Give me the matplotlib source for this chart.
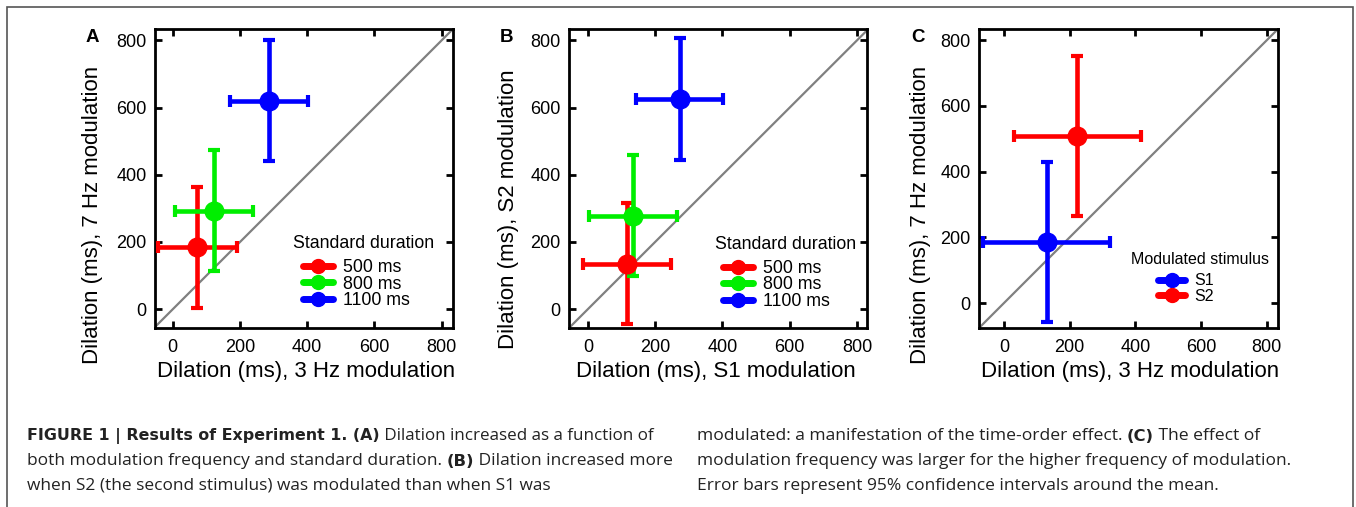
import numpy as np
import matplotlib
matplotlib.use("Agg")
import matplotlib.pyplot as plt
from matplotlib.lines import Line2D
from matplotlib.patches import Rectangle

plt.rcParams['font.family'] = ['Liberation Sans', 'DejaVu Sans']

RED = '#ff0000'
GREEN = '#00ee00'
BLUE = '#0000ff'

# panel A: 3 Hz vs 7 Hz, per standard duration
durations = ['500 ms', '800 ms', '1100 ms']
a_x = [73, 124, 285]
a_y = [184, 293, 620]
a_xerr = [117, 116, 116]
a_yerr = [180, 180, 180]

# panel B: S1 vs S2 modulation
b_x = [117, 134, 273]
b_y = [135, 278, 625]
b_xerr = [130, 131, 129]
b_yerr = [180, 180, 181]

# panel C: modulated stimulus
stimuli = ['S1', 'S2']
c_x = [130, 223]
c_y = [186, 508]
c_xerr = [193, 193]
c_yerr = [243, 244]

ticks = [0, 200, 400, 600, 800]

W, H = 1356, 507


def fx(px):
    return px / W


def fy(py):
    return 1 - py / H


def draw_panel(ax, xs, ys, xerrs, yerrs, colors, names, xlim, ylim,
               xlabel, ylabel, ylab_pos, xlab_x,
               leg_title, title_pos, leg_pos, leg_size, leg_space):
    ax.plot([-200, 1000], [-200, 1000], color='#808080', lw=1.6, zorder=1)
    for x, y, xe, ye, c in zip(xs, ys, xerrs, yerrs, colors):
        ax.errorbar(x, y, xerr=xe, yerr=ye, fmt='o', color=c, ms=13.5,
                    elinewidth=3.3, capsize=4.5, capthick=3, zorder=3)
    ax.set_xlim(*xlim)
    ax.set_ylim(*ylim)
    ax.set_xticks(ticks)
    ax.set_yticks(ticks)
    ax.tick_params(direction='in', length=5, width=2, top=True, right=True,
                   labelsize=13)
    ax.tick_params(axis='x', pad=8)
    ax.tick_params(axis='y', pad=6)
    for s in ax.spines.values():
        s.set_linewidth(2)
    ax.text(xlab_x, -0.146, xlabel, transform=ax.transAxes, ha='center',
            va='center', fontsize=16)
    ax.text(ylab_pos[0], ylab_pos[1], ylabel, transform=ax.transAxes,
            ha='center', va='center', rotation=90, fontsize=16)
    # legend title drawn separately so the entries can sit tight
    ax.text(title_pos[0], title_pos[1], leg_title, transform=ax.transAxes,
            ha='center', va='center', fontsize=leg_size)
    handles = [Line2D([], [], color=c, lw=5, marker='o', ms=10,
                      solid_capstyle='round') for c in colors]
    ax.legend(handles, names, loc='upper left', bbox_to_anchor=leg_pos,
              frameon=False, fontsize=leg_size, labelspacing=leg_space,
              handlelength=1.7, handletextpad=0.55, borderpad=0,
              borderaxespad=0)


fig = plt.figure(figsize=(W / 100, H / 100), dpi=100)

axA = fig.add_axes([fx(155), fy(328), fx(298), 299 / H])
axB = fig.add_axes([fx(569), fy(328), fx(298), 299 / H])
axC = fig.add_axes([fx(979), fy(328), fx(299), 299 / H])

draw_panel(axA, a_x, a_y, a_xerr, a_yerr, [RED, GREEN, BLUE], durations,
           (-53, 834), (-56, 834), 'Dilation (ms), 3 Hz modulation',
           'Dilation (ms), 7 Hz modulation', (-0.211, 0.378), 0.506,
           'Standard duration', (0.701, 0.282), (0.497, 0.230), 12.8, -0.03)
draw_panel(axB, b_x, b_y, b_xerr, b_yerr, [RED, GREEN, BLUE], durations,
           (-56, 830), (-56, 834), 'Dilation (ms), S1 modulation',
           'Dilation (ms), S2 modulation', (-0.202, 0.398), 0.492,
           'Standard duration', (0.727, 0.279), (0.517, 0.228), 12.8, -0.03)
draw_panel(axC, c_x, c_y, c_xerr, c_yerr, [BLUE, RED], stimuli,
           (-76, 834), (-76, 834), 'Dilation (ms), 3 Hz modulation',
           'Dilation (ms), 7 Hz modulation', (-0.195, 0.378), 0.506,
           'Modulated stimulus', (0.74, 0.228), (0.599, 0.183), 11.5, 0.02)

for letter, px in [('A', 92.7), ('B', 506.7), ('C', 918)]:
    fig.text(fx(px), fy(38), letter, ha='center', va='center',
             fontsize=13.5, fontweight='bold')

# frame around the figure (bottom edge cut off)
fig.patches.append(Rectangle((fx(7), -0.1), fx(1346), fy(7) + 0.1,
                             transform=fig.transFigure, fill=False,
                             edgecolor='#555555', lw=1.2))

# caption with bold runs
caption_left = [
    [("FIGURE 1 | Results of Experiment 1. (A)", True),
     (" Dilation increased as a function of", False)],
    [("both modulation frequency and standard duration. ", False),
     ("(B)", True), (" Dilation increased more", False)],
    [("when S2 (the second stimulus) was modulated than when S1 was", False)],
]
caption_right = [
    [("modulated: a manifestation of the time-order effect. ", False),
     ("(C)", True), (" The effect of", False)],
    [("modulation frequency was larger for the higher frequency of modulation.", False)],
    [("Error bars represent 95% confidence intervals around the mean.", False)],
]
line_y = [436.5, 461, 485.5]
# start and right end of the first two caption lines in each column (pixels)
left_x0, right_x0 = 27, 697
left_ends = [653, 673]
right_ends = [1260, 1290]

renderer = fig.canvas.get_renderer()


def draw_runs(x_px, y_px, runs, scale=1.0):
    x = x_px
    drawn = []
    for txt, bold in runs:
        if bold:
            t = fig.text(fx(x), fy(y_px), txt, ha='left', va='center',
                         fontsize=11.8 * scale, fontweight='bold',
                         family=['DejaVu Sans'], color='#222222')
        else:
            t = fig.text(fx(x), fy(y_px), txt, ha='left', va='center',
                         fontsize=12.6 * scale,
                         family=['Open Sans', 'DejaVu Sans'],
                         color='#222222')
        x += t.get_window_extent(renderer).width
        drawn.append(t)
    return x - x_px, drawn


def draw_column(x0, lines, ends):
    scales = []
    for runs, y, xe in zip(lines, line_y, ends):
        width, drawn = draw_runs(x0, y, runs)
        for t in drawn:
            t.remove()
        scales.append((xe - x0) / width)
        draw_runs(x0, y, runs, scale=scales[-1])
    # last line: same size as the lines above it
    draw_runs(x0, line_y[2], lines[2], scale=np.mean(scales))


draw_column(left_x0, caption_left, left_ends)
draw_column(right_x0, caption_right, right_ends)

fig.savefig('out.png', dpi=100)
